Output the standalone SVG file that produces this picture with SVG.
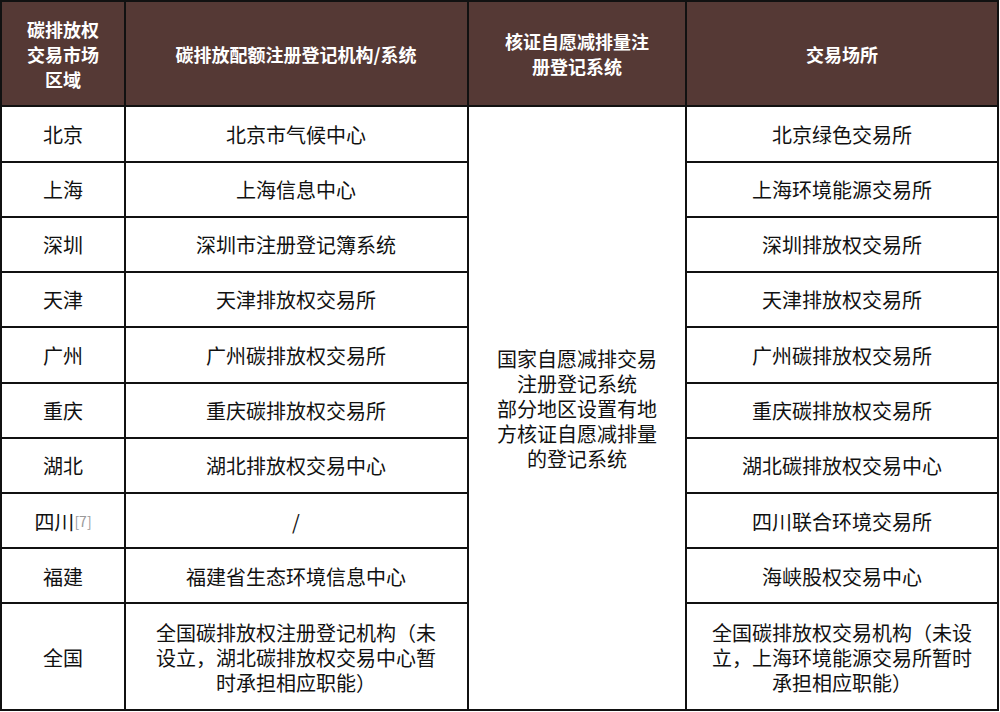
<svg xmlns="http://www.w3.org/2000/svg" width="1000" height="712" viewBox="0 0 1000 712">
<style>
text{font-family:"Noto Sans CJK SC","Noto Sans",sans-serif;text-anchor:middle;dominant-baseline:central}
.h{fill:#fff;font-weight:bold;font-size:18px}
.c{fill:#111;font-size:20px}
.g{stroke:#111;stroke-width:2;fill:none}
</style>
<rect x="0" y="0" width="1000" height="712" fill="#fff"/>
<rect x="1" y="1" width="997" height="105" fill="#553935"/>
<g id="grid" class="g">
<rect x="1" y="1" width="997" height="709"/>
<line x1="1" y1="106" x2="998" y2="106"/>
<line x1="125" y1="1" x2="125" y2="710"/>
<line x1="468" y1="1" x2="468" y2="710"/>
<line x1="686" y1="1" x2="686" y2="710"/>
<path d="M1 162H468M686 162H998M1 217H468M686 217H998M1 272H468M686 272H998M1 327H468M686 327H998M1 383H468M686 383H998M1 438H468M686 438H998M1 493H468M686 493H998M1 548H468M686 548H998M1 603H468M686 603H998"/>
</g>
<g id="header">
<text class="h" x="63" y="29">碳排放权</text><text class="h" x="63" y="54">交易市场</text><text class="h" x="63" y="79">区域</text>
<text class="h" x="296" y="54">碳排放配额注册登记机构/系统</text>
<text class="h" x="577" y="41">核证自愿减排量注</text><text class="h" x="577" y="66">册登记系统</text>
<text class="h" x="842" y="54">交易场所</text>
</g>
<g id="col1">
<text class="c" x="63" y="134">北京</text>
<text class="c" x="63" y="189">上海</text>
<text class="c" x="63" y="244">深圳</text>
<text class="c" x="63" y="299">天津</text>
<text class="c" x="63" y="355">广州</text>
<text class="c" x="63" y="410">重庆</text>
<text class="c" x="63" y="465">湖北</text>
<text class="c" x="63" y="521">四川<tspan fill="#999" font-size="14px">[7]</tspan></text>
<text class="c" x="63" y="576">福建</text>
<text class="c" x="63" y="657">全国</text>
</g>
<g id="col2">
<text class="c" x="296" y="134">北京市气候中心</text>
<text class="c" x="296" y="189">上海信息中心</text>
<text class="c" x="296" y="244">深圳市注册登记簿系统</text>
<text class="c" x="296" y="299">天津排放权交易所</text>
<text class="c" x="296" y="355">广州碳排放权交易所</text>
<text class="c" x="296" y="410">重庆碳排放权交易所</text>
<text class="c" x="296" y="465">湖北排放权交易中心</text>
<text class="c" x="296" y="521">/</text>
<text class="c" x="296" y="576">福建省生态环境信息中心</text>
<text class="c" x="296" y="632">全国碳排放权注册登记机构（未</text>
<text class="c" x="296" y="657">设立，湖北碳排放权交易中心暂</text>
<text class="c" x="296" y="682">时承担相应职能）</text>
</g>
<g id="col3">
<text class="c" x="577" y="358">国家自愿减排交易</text>
<text class="c" x="577" y="383">注册登记系统</text>
<text class="c" x="577" y="408">部分地区设置有地</text>
<text class="c" x="577" y="433">方核证自愿减排量</text>
<text class="c" x="577" y="458">的登记系统</text>
</g>
<g id="col4">
<text class="c" x="842" y="134">北京绿色交易所</text>
<text class="c" x="842" y="189">上海环境能源交易所</text>
<text class="c" x="842" y="244">深圳排放权交易所</text>
<text class="c" x="842" y="299">天津排放权交易所</text>
<text class="c" x="842" y="355">广州碳排放权交易所</text>
<text class="c" x="842" y="410">重庆碳排放权交易所</text>
<text class="c" x="842" y="465">湖北碳排放权交易中心</text>
<text class="c" x="842" y="521">四川联合环境交易所</text>
<text class="c" x="842" y="576">海峡股权交易中心</text>
<text class="c" x="842" y="632">全国碳排放权交易机构（未设</text>
<text class="c" x="842" y="657">立，上海环境能源交易所暂时</text>
<text class="c" x="842" y="682">承担相应职能）</text>
</g>
</svg>
